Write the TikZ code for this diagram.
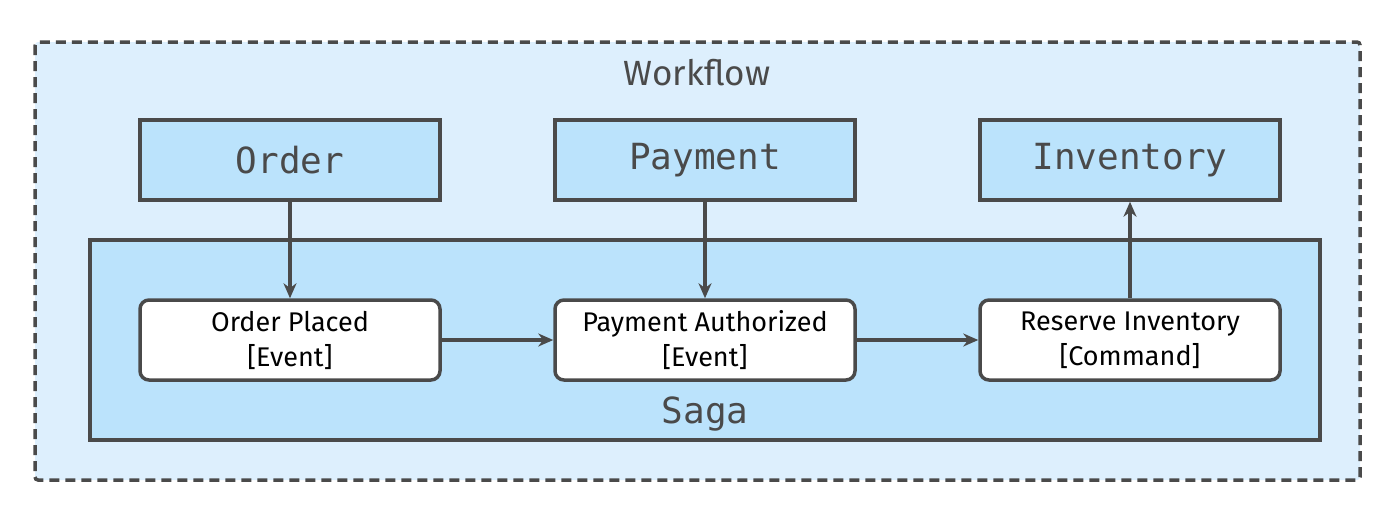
\documentclass[tikz,border=0pt]{standalone}
\usepackage{fontspec}
\setmainfont{Fira Sans}
\setmonofont{DejaVu Sans Mono}
\usetikzlibrary{arrows.meta}
\definecolor{ln}{HTML}{4A4A4A}
\definecolor{outerf}{HTML}{DDEFFD}
\definecolor{boxf}{HTML}{BBE3FC}
\begin{document}
\begin{tikzpicture}[x=1pt,y=-1pt,
  every node/.style={text=ln},
  svc/.style={draw=ln,line width=3.5pt,fill=boxf,minimum width=300pt,minimum height=80pt,font=\ttfamily\fontsize{36}{40}\selectfont},
  msg/.style={draw=ln,line width=3.5pt,fill=white,rounded corners=9pt,minimum width=300pt,minimum height=80pt,align=center,text=black,font=\fontsize{27}{35}\selectfont},
  arr/.style={draw=ln,line width=3.5pt,-{Stealth[length=15pt,width=13pt]}}]
\useasboundingbox (0,0) rectangle (1400,520);
\draw[ln,line width=3.5pt,dash pattern=on 10pt off 6pt,fill=outerf,rounded corners=3pt] (35,42) rectangle (1360,480);
\node[font=\fontsize{35}{40}\selectfont] (wf) at (697,73) {Workflow};
\draw[ln,line width=3.5pt,fill=boxf] (90,240) rectangle (1320,440);
\node[font=\ttfamily\fontsize{36}{40}\selectfont] (saga) at (705,414) {Saga};
\node[svc] (order) at (290,160) {Order};
\node[svc] (pay) at (705,160) {Payment};
\node[svc] (inv) at (1130,160) {Inventory};
\node[msg] (op) at (290,340) {Order Placed\\{}[Event]};
\node[msg] (pa) at (705,340) {Payment Authorized\\{}[Event]};
\node[msg] (ri) at (1130,340) {Reserve Inventory\\{}[Command]};
\draw[arr] (order) -- (op);
\draw[arr] (pay) -- (pa);
\draw[arr] (ri) -- (inv);
\draw[arr] (op) -- (pa);
\draw[arr] (pa) -- (ri);
\end{tikzpicture}
\end{document}
